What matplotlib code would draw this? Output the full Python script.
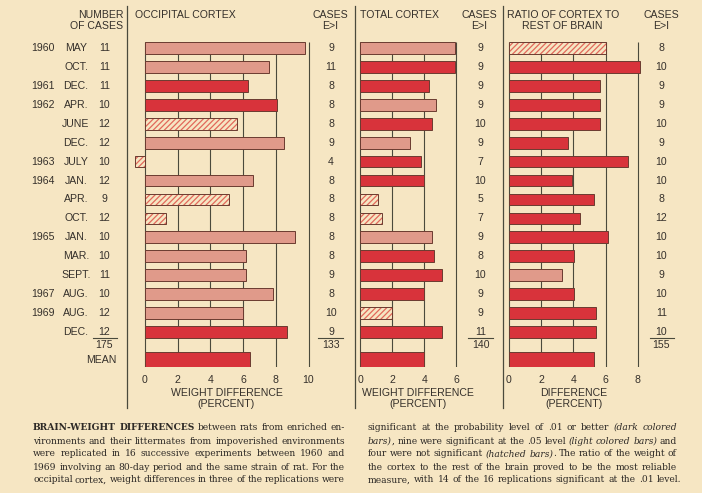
import matplotlib
matplotlib.use("Agg")
import matplotlib.pyplot as plt
from matplotlib.lines import Line2D

# ---------------- data ----------------
years = ["1960", "", "1961", "1962", "", "", "1963", "1964", "", "", "1965", "", "", "1967", "1969", ""]
months = ["MAY", "OCT.", "DEC.", "APR.", "JUNE", "DEC.", "JULY", "JAN.", "APR.", "OCT.",
          "JAN.", "MAR.", "SEPT.", "AUG.", "AUG.", "DEC."]
n_cases = [11, 11, 11, 10, 12, 12, 10, 12, 9, 12, 10, 10, 11, 10, 12, 12]
n_total = 175

# significance: 'd' = .01 (dark), 'l' = .05 (light), 'h' = not significant (hatched)
occ_vals = [9.8, 7.6, 6.3, 8.1, 5.6, 8.5, -0.6, 6.6, 5.15, 1.3, 9.2, 6.2, 6.2, 7.8, 6.0, 8.7]
occ_sig = ['l', 'l', 'd', 'd', 'h', 'l', 'h', 'l', 'h', 'h', 'l', 'l', 'l', 'l', 'l', 'd']
occ_mean = 6.4
occ_cases = [9, 11, 8, 8, 8, 9, 4, 8, 8, 8, 8, 8, 9, 8, 10, 9]
occ_cases_total = 133

tot_vals = [5.9, 5.9, 4.3, 4.7, 4.5, 3.1, 3.8, 4.0, 1.1, 1.35, 4.5, 4.6, 5.1, 4.0, 2.0, 5.1]
tot_sig = ['l', 'd', 'd', 'l', 'd', 'l', 'd', 'd', 'h', 'h', 'l', 'd', 'd', 'd', 'h', 'd']
tot_mean = 4.0
tot_cases = [9, 9, 9, 9, 10, 9, 7, 10, 5, 7, 9, 8, 10, 9, 9, 11]
tot_cases_total = 140

rat_vals = [6.03, 8.15, 5.68, 5.68, 5.68, 3.65, 7.37, 3.92, 5.26, 4.43, 6.18, 4.05, 3.3, 4.05, 5.43, 5.43]
rat_sig = ['h', 'd', 'd', 'd', 'd', 'd', 'd', 'd', 'd', 'd', 'd', 'd', 'l', 'd', 'd', 'd']
rat_mean = 5.26
rat_cases = [8, 10, 9, 9, 10, 9, 10, 10, 8, 12, 10, 10, 9, 10, 11, 10]
rat_cases_total = 155

occ_ticks = [0, 2, 4, 6, 8, 10]
tot_ticks = [0, 2, 4, 6]
rat_ticks = [0, 2, 4, 6, 8]

# ---------------- style ----------------
BG = "#f6e6c3"
DARK = "#d8333b"
LIGHT = "#e09a8a"
HATCH = "#e2685a"
EDGE = "#6b3b30"
INK = "#35302b"
LINE = "#4a4a3c"
SANS = ["Liberation Sans", "DejaVu Sans"]
FS = 7.6

W, H = 702, 493
plt.rcParams['hatch.linewidth'] = 0.9
fig = plt.figure(figsize=(W / 100, H / 100), dpi=100, facecolor=BG)


def fx(px):
    return px / W


def fy(py):
    return 1 - py / H


ROW0 = 48.0
ROWH = 18.93
Y_TOP = -0.6
Y_BOT = 16.85
MEAN_POS = 16.5


def make_axes(x0_px, unit, xmin, xmax):
    left = x0_px + xmin * unit
    width = (xmax - xmin) * unit
    top_px = ROW0 + Y_TOP * ROWH
    bot_px = ROW0 + Y_BOT * ROWH
    ax = fig.add_axes([fx(left), fy(bot_px), fx(width), (bot_px - top_px) / H])
    ax.set_xlim(xmin, xmax)
    ax.set_ylim(Y_BOT, Y_TOP)
    ax.axis("off")
    ax.patch.set_alpha(0)
    return ax


def draw_panel(ax, vals, sig, mean, ticks, cases, cases_total, cases_x):
    grid_top = -0.33
    ax.vlines(ticks, grid_top, Y_BOT, color=LINE, lw=0.8, zorder=1)
    rows = list(range(len(vals)))
    for r, v, s in zip(rows, vals, sig):
        if s == 'd':
            ax.barh(r, v, height=0.62, left=0, color=DARK, edgecolor=EDGE, lw=0.7, zorder=2)
        elif s == 'l':
            ax.barh(r, v, height=0.62, left=0, color=LIGHT, edgecolor=EDGE, lw=0.7, zorder=2)
        else:
            ax.barh(r, v, height=0.62, left=0, color=BG, edgecolor=HATCH, lw=0,
                    hatch="//////", zorder=2)
            ax.barh(r, v, height=0.62, left=0, fill=False, edgecolor=EDGE, lw=0.7, zorder=3)
    ax.barh(MEAN_POS, mean, height=0.88, left=0, color=DARK, edgecolor=EDGE, lw=0.7, zorder=2)
    for t in ticks:
        ax.text(t, 17.55, str(t), ha="center", va="center", fontsize=FS, color=INK,
                family=SANS, clip_on=False)
    for r, c in zip(rows, cases):
        ax.text(cases_x, r, str(c), ha="center", va="center", fontsize=FS, color=INK,
                family=SANS, clip_on=False)
    ax.text(cases_x, 15.7, str(cases_total), ha="center", va="center", fontsize=FS,
            color=INK, family=SANS, clip_on=False)


# occipital: 0 at 145 px, 16.35 px per unit
ax1 = make_axes(145, 16.35, -1.0, 12.5)
draw_panel(ax1, occ_vals, occ_sig, occ_mean, occ_ticks, occ_cases, occ_cases_total,
           (331 - 145) / 16.35)
ax2 = make_axes(360.5, 16.0, -0.2, 8.0)
draw_panel(ax2, tot_vals, tot_sig, tot_mean, tot_ticks, tot_cases, tot_cases_total,
           (480.5 - 360.5) / 16.0)
ax3 = make_axes(509, 16.09, -0.2, 10.5)
draw_panel(ax3, rat_vals, rat_sig, rat_mean, rat_ticks, rat_cases, rat_cases_total,
           (661.5 - 509) / 16.09)

# row labels (left)
for r, (yr, mo, n) in enumerate(zip(years, months, n_cases)):
    ax1.text((55 - 145) / 16.35, r, yr, ha="right", va="center", fontsize=FS,
             color=INK, family=SANS, clip_on=False)
    ax1.text((76 - 145) / 16.35, r, mo, ha="center", va="center", fontsize=FS,
             color=INK, family=SANS, clip_on=False)
    ax1.text((104.5 - 145) / 16.35, r, str(n), ha="center", va="center", fontsize=FS,
             color=INK, family=SANS, clip_on=False)
ax1.text((104.5 - 145) / 16.35, 15.7, str(n_total), ha="center", va="center", fontsize=FS,
         color=INK, family=SANS, clip_on=False)
ax1.text((116.5 - 145) / 16.35, MEAN_POS, "MEAN", ha="right", va="center", fontsize=FS,
         color=INK, family=SANS, clip_on=False)

# sum underlines
for x0, x1 in [(93, 117), (318, 343), (468, 493), (650, 674)]:
    fig.add_artist(Line2D([fx(x0), fx(x1)], [fy(337.5), fy(337.5)], color=LINE, lw=0.8))

# dividers
for x in [127.3, 355, 503]:
    fig.add_artist(Line2D([fx(x), fx(x)], [fy(6), fy(408)], color=LINE, lw=0.9))


def ftext(x, y, s, ha="left", **kw):
    fig.text(fx(x), fy(y), s, ha=ha, va="center", fontsize=FS, color=INK, family=SANS, **kw)


ftext(123.5, 15.5, "NUMBER", ha="right")
ftext(123.5, 26, "OF CASES", ha="right")
ftext(135, 15.5, "OCCIPITAL CORTEX")
ftext(360, 15.5, "TOTAL CORTEX")
ftext(507, 15.5, "RATIO OF CORTEX TO")
ftext(562.5, 26, "REST OF BRAIN", ha="center")
for cx in [330.5, 479.5, 661]:
    ftext(cx, 15.5, "CASES", ha="center")
    ftext(cx, 26, "E>I", ha="center")

ftext(226.5, 393.5, "WEIGHT DIFFERENCE", ha="center")
ftext(226.5, 404, "(PERCENT)", ha="center")
ftext(418, 393.5, "WEIGHT DIFFERENCE", ha="center")
ftext(418, 404, "(PERCENT)", ha="center")
ftext(574, 393.5, "DIFFERENCE", ha="center")
ftext(574, 404, "(PERCENT)", ha="center")

# ---------------- caption (justified) ----------------
left_lines = [
    "#BRAIN-WEIGHT DIFFERENCES# between rats from enriched en-",
    "vironments and their littermates from impoverished environments",
    "were replicated in 16 successive experiments between 1960 and",
    "1969 involving an 80-day period and the same strain of rat. For the",
    "occipital cortex, weight differences in three of the replications were",
]
right_lines = [
    "significant at the probability level of .01 or better *(dark colored*",
    "*bars)*, nine were significant at the .05 level *(light colored bars)* and",
    "four were not significant *(hatched bars)*. The ratio of the weight of",
    "the cortex to the rest of the brain proved to be the most reliable",
    "measure, with 14 of the 16 replications significant at the .01 level.",
]
CAP_FS = 6.6
SERIF = ["DejaVu Serif"]


def parse(line):
    words = []
    cur = []
    buf = ""
    bold = False
    ital = False

    def flush():
        nonlocal buf
        if buf:
            cur.append((buf, bold, ital))
        buf = ""

    for ch in line:
        if ch == "#":
            flush()
            bold = not bold
        elif ch == "*":
            flush()
            ital = not ital
        elif ch == " ":
            flush()
            if cur:
                words.append(list(cur))
            cur.clear()
        else:
            buf += ch
    flush()
    if cur:
        words.append(list(cur))
    return words


renderer = fig.canvas.get_renderer()


def draw_column(lines, x0, x1, ys, justify_last=False):
    for i, (line, y) in enumerate(zip(lines, ys)):
        words = parse(line)
        word_arts = []
        widths = []
        for w in words:
            arts = []
            ww = 0
            for piece, b, it in w:
                t = fig.text(0, fy(y), piece, fontsize=CAP_FS, family=SERIF, color="#2e2a26",
                             fontweight="bold" if b else "normal",
                             fontstyle="italic" if it else "normal", va="center", ha="left")
                bb = t.get_window_extent(renderer)
                arts.append((t, bb.width))
                ww += bb.width
            word_arts.append(arts)
            widths.append(ww)
        total = sum(widths)
        last = (i == len(lines) - 1) and not justify_last
        if last or len(words) < 2:
            gap = renderer.points_to_pixels(CAP_FS) * 0.35
        else:
            gap = (x1 - x0 - total) / (len(words) - 1)
        x = x0
        for arts, ww in zip(word_arts, widths):
            xx = x
            for t, pw in arts:
                t.set_x(fx(xx))
                xx += pw
            x += ww + gap


cap_ys = [427.5, 441, 454, 467, 480]
draw_column(left_lines, 33, 345, cap_ys, justify_last=True)
draw_column(right_lines, 368, 677, cap_ys, justify_last=False)

fig.savefig("out.png", dpi=100, facecolor=BG)
